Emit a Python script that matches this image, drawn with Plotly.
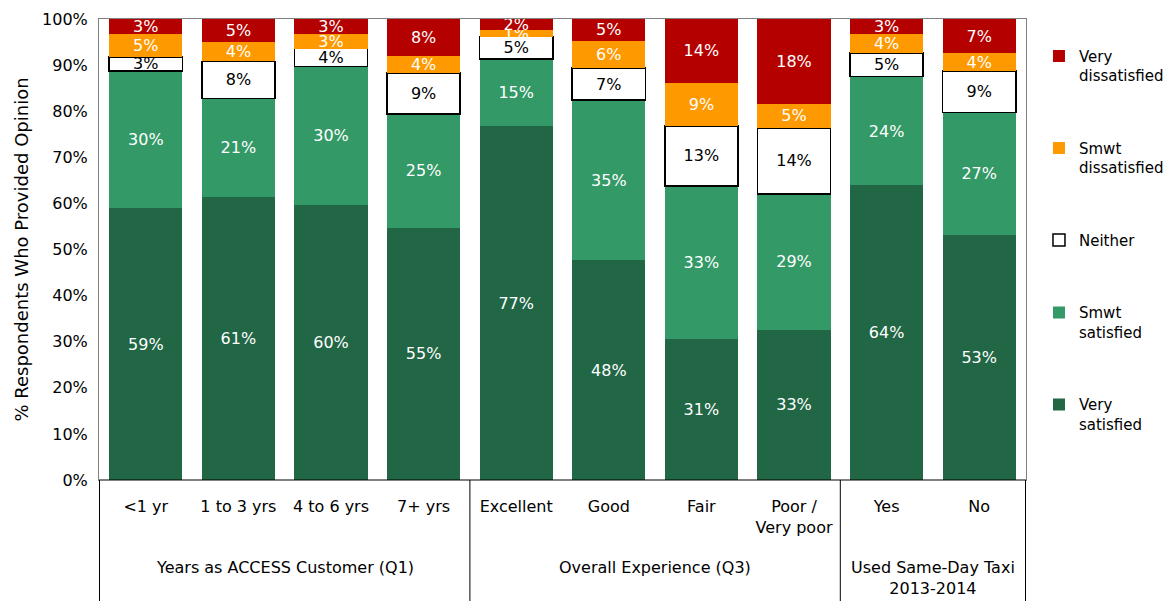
import plotly.graph_objects as go

categories = ["<1 yr", "1 to 3 yrs", "4 to 6 yrs", "7+ yrs", "Excellent", "Good", "Fair", "Poor /<br>Very poor", "Yes", "No"]
group_names = ["Years as ACCESS Customer (Q1)", "Overall Experience (Q3)", "Used Same-Day Taxi<br>2013-2014"]
group_sizes = [4, 4, 2]

very_satisfied = [59.0, 61.4, 59.6, 54.7, 76.7, 47.7, 30.6, 32.6, 63.9, 53.1]
smwt_satisfied = [29.7, 21.4, 30.1, 24.7, 14.6, 34.7, 33.2, 29.4, 23.6, 26.6]
neither = [3.1, 8.0, 3.9, 8.9, 4.9, 7.0, 13.0, 14.4, 5.1, 9.0]
smwt_dissatisfied = [4.9, 4.2, 3.1, 3.7, 1.4, 5.9, 9.4, 5.2, 4.1, 3.9]
very_dissatisfied = [3.3, 5.0, 3.3, 8.0, 2.4, 4.7, 13.8, 18.4, 3.3, 7.4]

series = [
    ("Very<br>satisfied", very_satisfied, "#216645", "#216645", "white"),
    ("Smwt<br>satisfied", smwt_satisfied, "#339966", "#339966", "white"),
    ("Neither", neither, "white", "black", "black"),
    ("Smwt<br>dissatisfied", smwt_dissatisfied, "#FF9900", "#FF9900", "white"),
    ("Very<br>dissatisfied", very_dissatisfied, "#B50000", "#B50000", "white"),
]

FONT = "DejaVu Sans"
fig = go.Figure()
for i, (name, vals, color, line, tcolor) in enumerate(series):
    fig.add_trace(go.Bar(
        name=name,
        x=categories,
        y=vals,
        marker=dict(color=color, line=dict(color=line, width=1.5 if line == "black" else 0)),
        texttemplate="%{y:.0f}%",
        textposition="inside",
        insidetextanchor="middle",
        constraintext="none",
        textangle=0,
        textfont=dict(color=tcolor, size=16, family=FONT),
        legendgroup=str(i),
        legendrank=100 - i,
        hoverinfo="skip",
    ))

BOTTOM = 121
PLOT_H = 601 - 19 - BOTTOM
shapes = []
edges = [-0.5]
for s in group_sizes:
    edges.append(edges[-1] + s)
for e in edges:
    shapes.append(dict(type="line", xref="x", yref="paper", x0=e, x1=e, y0=0, y1=-BOTTOM / PLOT_H,
                       line=dict(color="black", width=1)))
shapes.append(dict(type="line", xref="paper", yref="y", x0=0, x1=1, y0=0, y1=0,
                   line=dict(color="black", width=1)))

annotations = []
for name, a, b in zip(group_names, edges[:-1], edges[1:]):
    annotations.append(dict(text=name, x=(a + b) / 2, xref="x", y=-(556 - 480) / PLOT_H, yref="paper",
                            yanchor="top", xanchor="center", showarrow=False,
                            font=dict(size=16, family=FONT, color="black")))

fig.update_layout(
    barmode="stack",
    bargap=0.21,
    width=1174,
    height=601,
    margin=dict(l=99, r=148, t=19, b=BOTTOM, autoexpand=False),
    plot_bgcolor="white",
    paper_bgcolor="white",
    font=dict(family=FONT, size=16, color="black"),
    legend=dict(
        x=1.014, y=0.955, xanchor="left", yanchor="top",
        traceorder="grouped", tracegroupgap=50, valign="top",
        font=dict(size=15, family=FONT),
        itemwidth=30,
    ),
    shapes=shapes,
    annotations=annotations,
)
fig.update_yaxes(
    range=[0, 100], dtick=10, ticksuffix="%", showgrid=False, automargin=False,
    showline=True, linecolor="#808080", linewidth=1, mirror=True,
    ticks="", ticklabelstandoff=7, tickfont=dict(size=16),
    title=dict(text="% Respondents Who Provided Opinion", font=dict(size=18), standoff=8),
)
fig.update_xaxes(
    type="category", automargin=False,
    showline=True, linecolor="#808080", linewidth=1, mirror=True,
    ticks="", ticklabelstandoff=12, tickfont=dict(size=16),
)

fig.write_html("out.html", config={"displayModeBar": False},
               post_script="document.body.style.margin='0';")
